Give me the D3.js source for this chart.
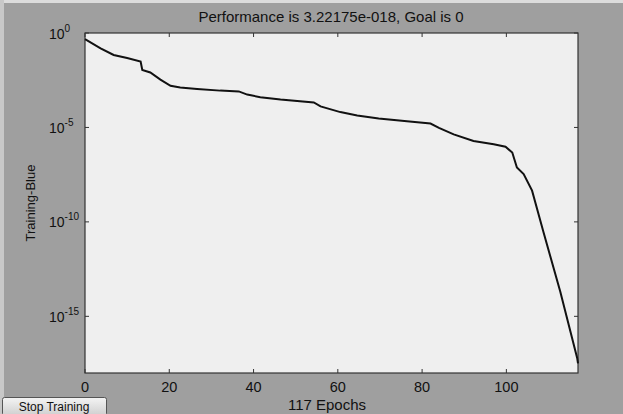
<!DOCTYPE html>
<html><head><meta charset="utf-8">
<script src="https://cdn.jsdelivr.net/npm/d3@7"></script>
<style>
html,body{margin:0;padding:0;background:#9f9f9f;}
svg{display:block;}
</style></head>
<body>
<script>
// Data
const epochs = [0, 3.7, 6.8, 10, 13.2, 13.6, 15.5, 17.9, 20.3, 22.6, 26.6, 32.1, 36.5, 38.5, 41.6, 46.4, 54.3, 55.9, 60.6, 64.6, 69.7, 76.4, 82.0, 84.0, 87.5, 92.2, 97.0, 99.8, 101.4, 102.5, 104.1, 106.1, 108.8, 112.8, 116.8, 117];
const performance = [4.7e-1, 1.55e-1, 6.9e-2, 4.7e-2, 3.1e-2, 1.1e-2, 8.1e-3, 3.4e-3, 1.6e-3, 1.3e-3, 1.1e-3, 8.9e-4, 8.1e-4, 5.5e-4, 4.0e-4, 3.0e-4, 2.1e-4, 1.3e-4, 6.5e-5, 4.3e-5, 3.0e-5, 2.1e-5, 1.6e-5, 9.5e-6, 4.3e-6, 1.9e-6, 1.3e-6, 9.5e-7, 4.7e-7, 7.6e-8, 3.4e-8, 4.5e-9, 2.9e-11, 2.0e-14, 6.3e-18, 3.22175e-18];
const xTicks = [0, 20, 40, 60, 80, 100];
const yTickExps = [0, -5, -10, -15];
const titleText = "Performance is 3.22175e-018, Goal is 0";
const xLabelText = "117 Epochs";
const yLabelText = "Training-Blue";
const buttonText = "Stop Training";

const W = 623, H = 414;
const m = {left: 85, top: 33, right: 578, bottom: 373};
const svg = d3.select("body").append("svg").attr("width", W).attr("height", H);
const font = "'Liberation Sans', Arial, sans-serif";

svg.append("rect").attr("width", W).attr("height", H).attr("fill", "#9f9f9f");
// light edges (top/left)
svg.append("rect").attr("x", 0).attr("y", 0).attr("width", W).attr("height", 3).attr("fill", "#dcdcdc");
svg.append("rect").attr("x", 0).attr("y", 0).attr("width", 4).attr("height", H).attr("fill", "#c8c8c8");

const x = d3.scaleLinear().domain([0, 117]).range([m.left, m.right]);
const y = d3.scaleLog().domain([1e-18, 1]).range([m.bottom, m.top]);

svg.append("rect").attr("x", m.left).attr("y", m.top)
  .attr("width", m.right - m.left).attr("height", m.bottom - m.top)
  .attr("fill", "#efefef");

// axes
const ax = svg.append("g").attr("font-family", font);
const tickLen = 4;
xTicks.forEach(t => {
  ax.append("line").attr("x1", x(t)).attr("x2", x(t)).attr("y1", m.bottom).attr("y2", m.bottom - tickLen).attr("stroke", "#333");
  ax.append("line").attr("x1", x(t)).attr("x2", x(t)).attr("y1", m.top).attr("y2", m.top + tickLen).attr("stroke", "#333");
  ax.append("text").attr("x", x(t)).attr("y", m.bottom + 19).attr("text-anchor", "middle")
    .attr("font-size", 14.5).attr("fill", "#111").text(t);
});
yTickExps.forEach(e => {
  const yy = y(Math.pow(10, e));
  ax.append("line").attr("x1", m.left).attr("x2", m.left + tickLen).attr("y1", yy).attr("y2", yy).attr("stroke", "#333");
  ax.append("line").attr("x1", m.right).attr("x2", m.right - tickLen).attr("y1", yy).attr("y2", yy).attr("stroke", "#333");
  const t = ax.append("text").attr("x", 49).attr("y", yy + 5.5).attr("text-anchor", "start")
    .attr("font-size", 14).attr("fill", "#111");
  t.append("tspan").text("10");
  t.append("tspan").attr("dy", -7).attr("font-size", 10).text(e);
});

// frame
svg.append("rect").attr("x", m.left).attr("y", m.top)
  .attr("width", m.right - m.left).attr("height", m.bottom - m.top)
  .attr("fill", "none").attr("stroke", "#333").attr("stroke-width", 1.2);

// line
const line = d3.line().x((d, i) => x(epochs[i])).y(d => y(d));
svg.append("path").datum(performance).attr("d", line)
  .attr("fill", "none").attr("stroke", "#111").attr("stroke-width", 2);

// labels
svg.append("text").attr("x", 331).attr("y", 22).attr("text-anchor", "middle")
  .attr("font-family", font).attr("font-size", 15).attr("fill", "#111").text(titleText);
svg.append("text").attr("x", 327).attr("y", 410).attr("text-anchor", "middle")
  .attr("font-family", font).attr("font-size", 15).attr("fill", "#111").text(xLabelText);
svg.append("text").attr("transform", `translate(35,${(m.top + m.bottom) / 2}) rotate(-90)`)
  .attr("text-anchor", "middle").attr("font-family", font).attr("font-size", 13).attr("fill", "#111").text(yLabelText);

// button
const grad = svg.append("defs").append("linearGradient").attr("id", "bg").attr("x1", 0).attr("x2", 0).attr("y1", 0).attr("y2", 1);
grad.append("stop").attr("offset", "0%").attr("stop-color", "#f4f4f4");
grad.append("stop").attr("offset", "100%").attr("stop-color", "#cfcfcf");
svg.append("rect").attr("x", 2.5).attr("y", 397.5).attr("width", 104).attr("height", 18).attr("rx", 2)
  .attr("fill", "url(#bg)").attr("stroke", "#555");
svg.append("text").attr("x", 54).attr("y", 411).attr("text-anchor", "middle")
  .attr("font-family", font).attr("font-size", 12).attr("fill", "#111").text(buttonText);
</script>
</body></html>
